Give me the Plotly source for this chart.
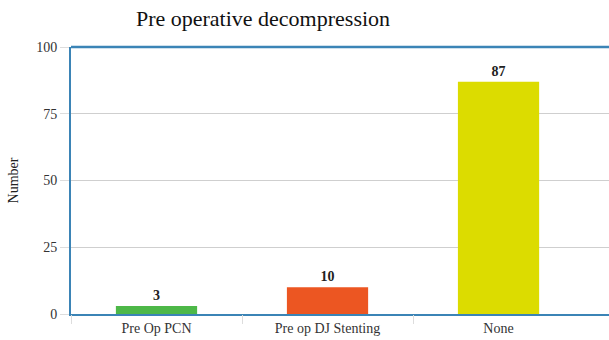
import plotly.graph_objects as go

# Pre-operative decompression counts
categories = ["Pre Op PCN", "Pre op DJ Stenting", "None"]
counts = [3, 10, 87]
bar_colors = ["#4db848", "#ec5622", "#dcdc00"]
y_ticks = [0, 25, 50, 75, 100]
positions = list(range(len(categories)))
# category separators drawn as tick marks under the axis
separators = [p - 0.5 for p in positions]

SERIF = "Liberation Serif"
BORDER = "#3b84b6"

fig = go.Figure(
    go.Bar(
        x=positions,
        y=counts,
        width=0.475,
        marker=dict(color=bar_colors, line=dict(width=0)),
        text=[f"<b>{v}</b>" for v in counts],
        textposition="outside",
        cliponaxis=False,
        textfont=dict(family=SERIF, size=14, color="#222222"),
    )
)

fig.update_layout(
    width=609,
    height=340,
    margin=dict(l=71, r=0, t=47, b=26),
    paper_bgcolor="white",
    plot_bgcolor="white",
    showlegend=False,
    font=dict(family=SERIF),
    title=dict(
        text="Pre operative decompression",
        font=dict(family=SERIF, size=22, color="#111111"),
        x=263 / 609,
        xanchor="center",
        y=1 - 18 / 340,
        yanchor="middle",
    ),
    xaxis=dict(
        range=[-0.5, 2.646],
        tickvals=positions,
        ticktext=categories,
        showline=True,
        linecolor=BORDER,
        linewidth=2,
        showgrid=False,
        zeroline=False,
        ticks="",
        tickfont=dict(family=SERIF, size=14, color="#333333"),
    ),
    xaxis2=dict(
        range=[-0.5, 2.646],
        overlaying="x",
        side="bottom",
        tickvals=separators,
        showticklabels=False,
        showgrid=False,
        zeroline=False,
        showline=False,
        ticks="outside",
        ticklen=9,
        tickcolor="#dddddd",
        tickwidth=1,
    ),
    yaxis=dict(
        range=[0, 100],
        tickvals=y_ticks,
        showline=True,
        linecolor=BORDER,
        linewidth=2,
        showgrid=True,
        gridcolor="#cfcfcf",
        gridwidth=1,
        zeroline=False,
        ticks="outside",
        ticklen=9,
        tickcolor="#dddddd",
        tickwidth=1,
        tickfont=dict(family=SERIF, size=14, color="#333333"),
        title=dict(text="Number", font=dict(family=SERIF, size=14, color="#222222"), standoff=14),
    ),
)

# invisible trace that activates the separator-tick axis
fig.add_trace(go.Scatter(x=separators, y=[0] * len(separators), xaxis="x2",
                         mode="markers", marker=dict(opacity=0), hoverinfo="skip"))

# top edge of the plot frame
fig.add_shape(
    type="line", xref="paper", yref="paper",
    x0=0, x1=1, y0=1, y1=1,
    line=dict(color=BORDER, width=2.5),
)

fig.write_html("out.html")
